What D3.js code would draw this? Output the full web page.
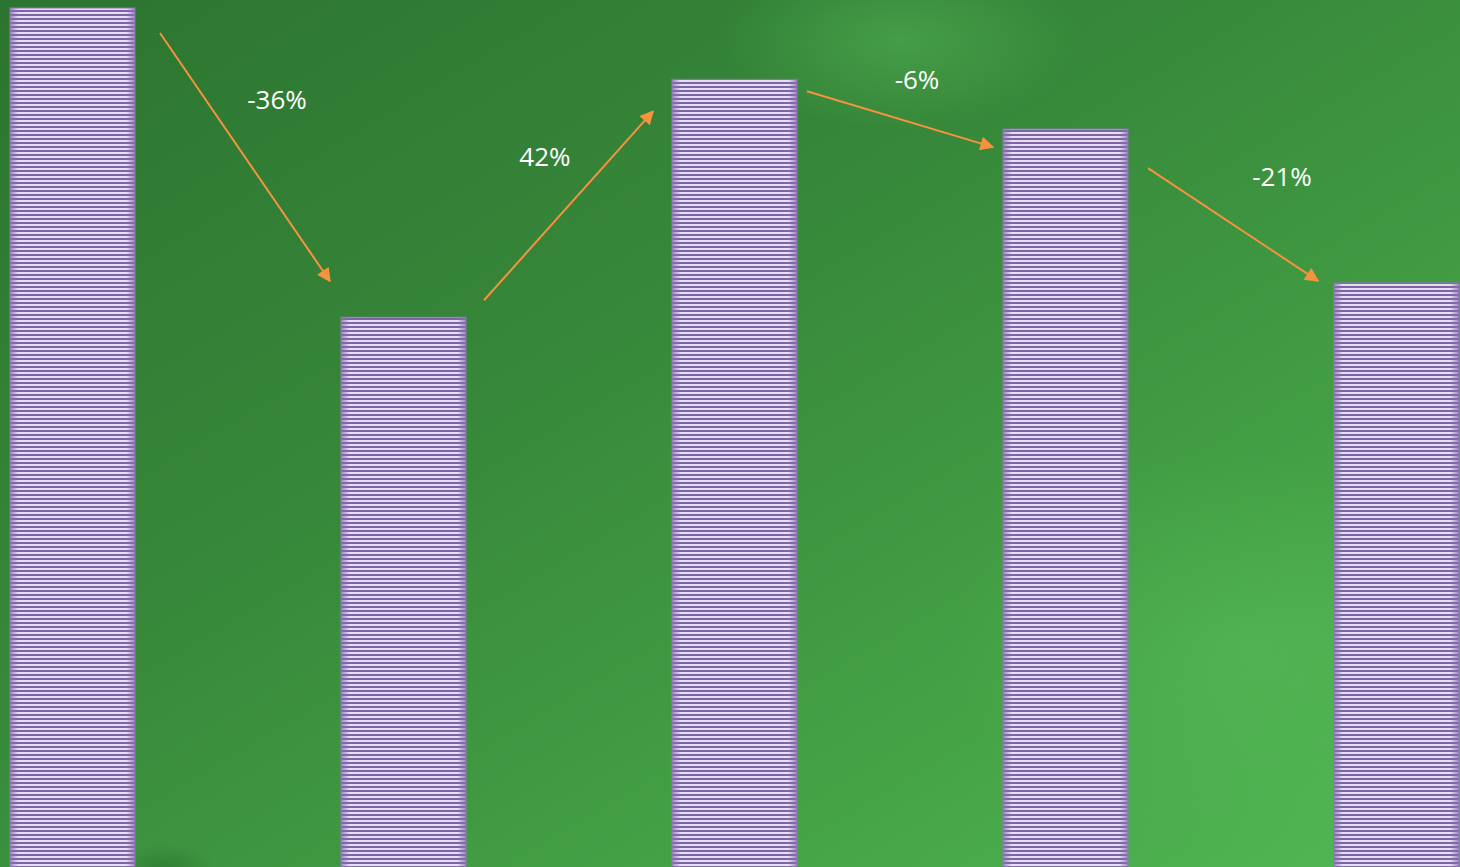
<!DOCTYPE html>
<html>
<head>
<meta charset="utf-8">
<script src="https://cdn.jsdelivr.net/npm/d3@7"></script>
<style>
  html, body { margin: 0; padding: 0; overflow: hidden; }
  svg { display: block; }
</style>
</head>
<body>
<script>
// data: five periods, values indexed to the first one
var periods = ["P1", "P2", "P3", "P4", "P5"];
var values = [100, 64, 91.7, 85.9, 68];
var changes = ["-36%", "42%", "-6%", "-21%"];

// arrow placement, offsets from the bar corners (layout only)
var arrowLayout = [
    {sx: 25, sy: 25, ex: -11, ey: -36, lx: 142, ly: 101},
    {sx: 18, sy: -17, ex: -19, ey: 32, lx: 79, ly: -151},
    {sx: 10, sy: 12, ex: -10, ey: 18, lx: 120, ly: 10},
    {sx: 20, sy: 39, ex: -16, ey: -2, lx: 154, ly: 57}
];

var w = 1460, h = 867;

var svg = d3.select("body").append("svg")
    .attr("width", w)
    .attr("height", h);

var defs = svg.append("defs");

// background gradient
var bg = defs.append("linearGradient")
    .attr("id", "bg")
    .attr("x1", "0").attr("y1", "0")
    .attr("x2", "1").attr("y2", "1");
bg.append("stop").attr("offset", "0%").attr("stop-color", "#2c7430");
bg.append("stop").attr("offset", "40%").attr("stop-color", "#37883a");
bg.append("stop").attr("offset", "75%").attr("stop-color", "#45a346");
bg.append("stop").attr("offset", "100%").attr("stop-color", "#52b955");

var glow = defs.append("radialGradient").attr("id", "glow");
glow.append("stop").attr("offset", "0%").attr("stop-color", "#5cc25e").attr("stop-opacity", 0.4);
glow.append("stop").attr("offset", "100%").attr("stop-color", "#5cc25e").attr("stop-opacity", 0);

var shade = defs.append("radialGradient").attr("id", "shade");
shade.append("stop").attr("offset", "0%").attr("stop-color", "#1f5e22").attr("stop-opacity", 0.35);
shade.append("stop").attr("offset", "100%").attr("stop-color", "#1f5e22").attr("stop-opacity", 0);

// stripe pattern for bars
var pat = defs.append("pattern")
    .attr("id", "stripes")
    .attr("patternUnits", "userSpaceOnUse")
    .attr("width", 8).attr("height", 4);
pat.append("rect").attr("width", 8).attr("height", 4).attr("fill", "#e6dff1");
pat.append("rect").attr("y", 2).attr("width", 8).attr("height", 2).attr("fill", "#7d64a6");

var edge = defs.append("linearGradient").attr("id", "edge");
edge.append("stop").attr("offset", "0%").attr("stop-color", "#8a6fb3").attr("stop-opacity", 0.8);
edge.append("stop").attr("offset", "7%").attr("stop-color", "#8a6fb3").attr("stop-opacity", 0);
edge.append("stop").attr("offset", "93%").attr("stop-color", "#8a6fb3").attr("stop-opacity", 0);
edge.append("stop").attr("offset", "100%").attr("stop-color", "#8a6fb3").attr("stop-opacity", 0.8);

defs.append("marker")
    .attr("id", "head")
    .attr("viewBox", "0 0 10 10")
    .attr("refX", 9).attr("refY", 5)
    .attr("markerWidth", 9).attr("markerHeight", 7)
    .attr("markerUnits", "strokeWidth")
    .attr("orient", "auto")
  .append("path")
    .attr("d", "M0,0 L10,5 L0,10 Z")
    .attr("fill", "#f7923f");

svg.append("rect").attr("width", w).attr("height", h).attr("fill", "url(#bg)");
svg.append("ellipse").attr("cx", 1250).attr("cy", 650).attr("rx", 300).attr("ry", 200).attr("fill", "url(#glow)");
svg.append("ellipse").attr("cx", 900).attr("cy", 40).attr("rx", 180).attr("ry", 90).attr("fill", "url(#glow)");
svg.append("ellipse").attr("cx", 165).attr("cy", 866).attr("rx", 50).attr("ry", 22).attr("fill", "url(#shade)");

// scales
var x = d3.scaleBand()
    .domain(periods)
    .range([10, 1459])
    .paddingInner(0.6224)
    .paddingOuter(0);

var y = d3.scaleLinear()
    .domain([0, 100])
    .range([867, 8]);

var bw = x.bandwidth();

var bars = svg.append("g").selectAll("g")
    .data(periods)
    .enter()
    .append("g");

bars.append("rect")
    .attr("x", function(d) { return x(d); })
    .attr("y", function(d, i) { return y(values[i]); })
    .attr("width", bw)
    .attr("height", function(d, i) { return y(0) - y(values[i]); })
    .attr("fill", "url(#stripes)");

bars.append("rect")
    .attr("x", function(d) { return x(d); })
    .attr("y", function(d, i) { return y(values[i]); })
    .attr("width", bw)
    .attr("height", function(d, i) { return y(0) - y(values[i]); })
    .attr("fill", "url(#edge)")
    .attr("stroke", "#8d76b5")
    .attr("stroke-width", 1);

// arrows between bars
var arrows = svg.append("g").selectAll("g")
    .data(changes)
    .enter()
    .append("g");

arrows.append("line")
    .attr("x1", function(d, i) { return x(periods[i]) + bw + arrowLayout[i].sx; })
    .attr("y1", function(d, i) { return y(values[i]) + arrowLayout[i].sy; })
    .attr("x2", function(d, i) { return x(periods[i + 1]) + arrowLayout[i].ex; })
    .attr("y2", function(d, i) { return y(values[i + 1]) + arrowLayout[i].ey; })
    .attr("stroke", "#f7923f")
    .attr("stroke-width", 2)
    .attr("marker-end", "url(#head)");

arrows.append("text")
    .attr("x", function(d, i) { return x(periods[i]) + bw + arrowLayout[i].lx; })
    .attr("y", function(d, i) { return y(values[i]) + arrowLayout[i].ly; })
    .attr("text-anchor", "middle")
    .attr("font-family", "Open Sans, sans-serif")
    .attr("font-size", "26px")
    .attr("fill", "#ffffff")
    .text(function(d) { return d; });
</script>
</body>
</html>
